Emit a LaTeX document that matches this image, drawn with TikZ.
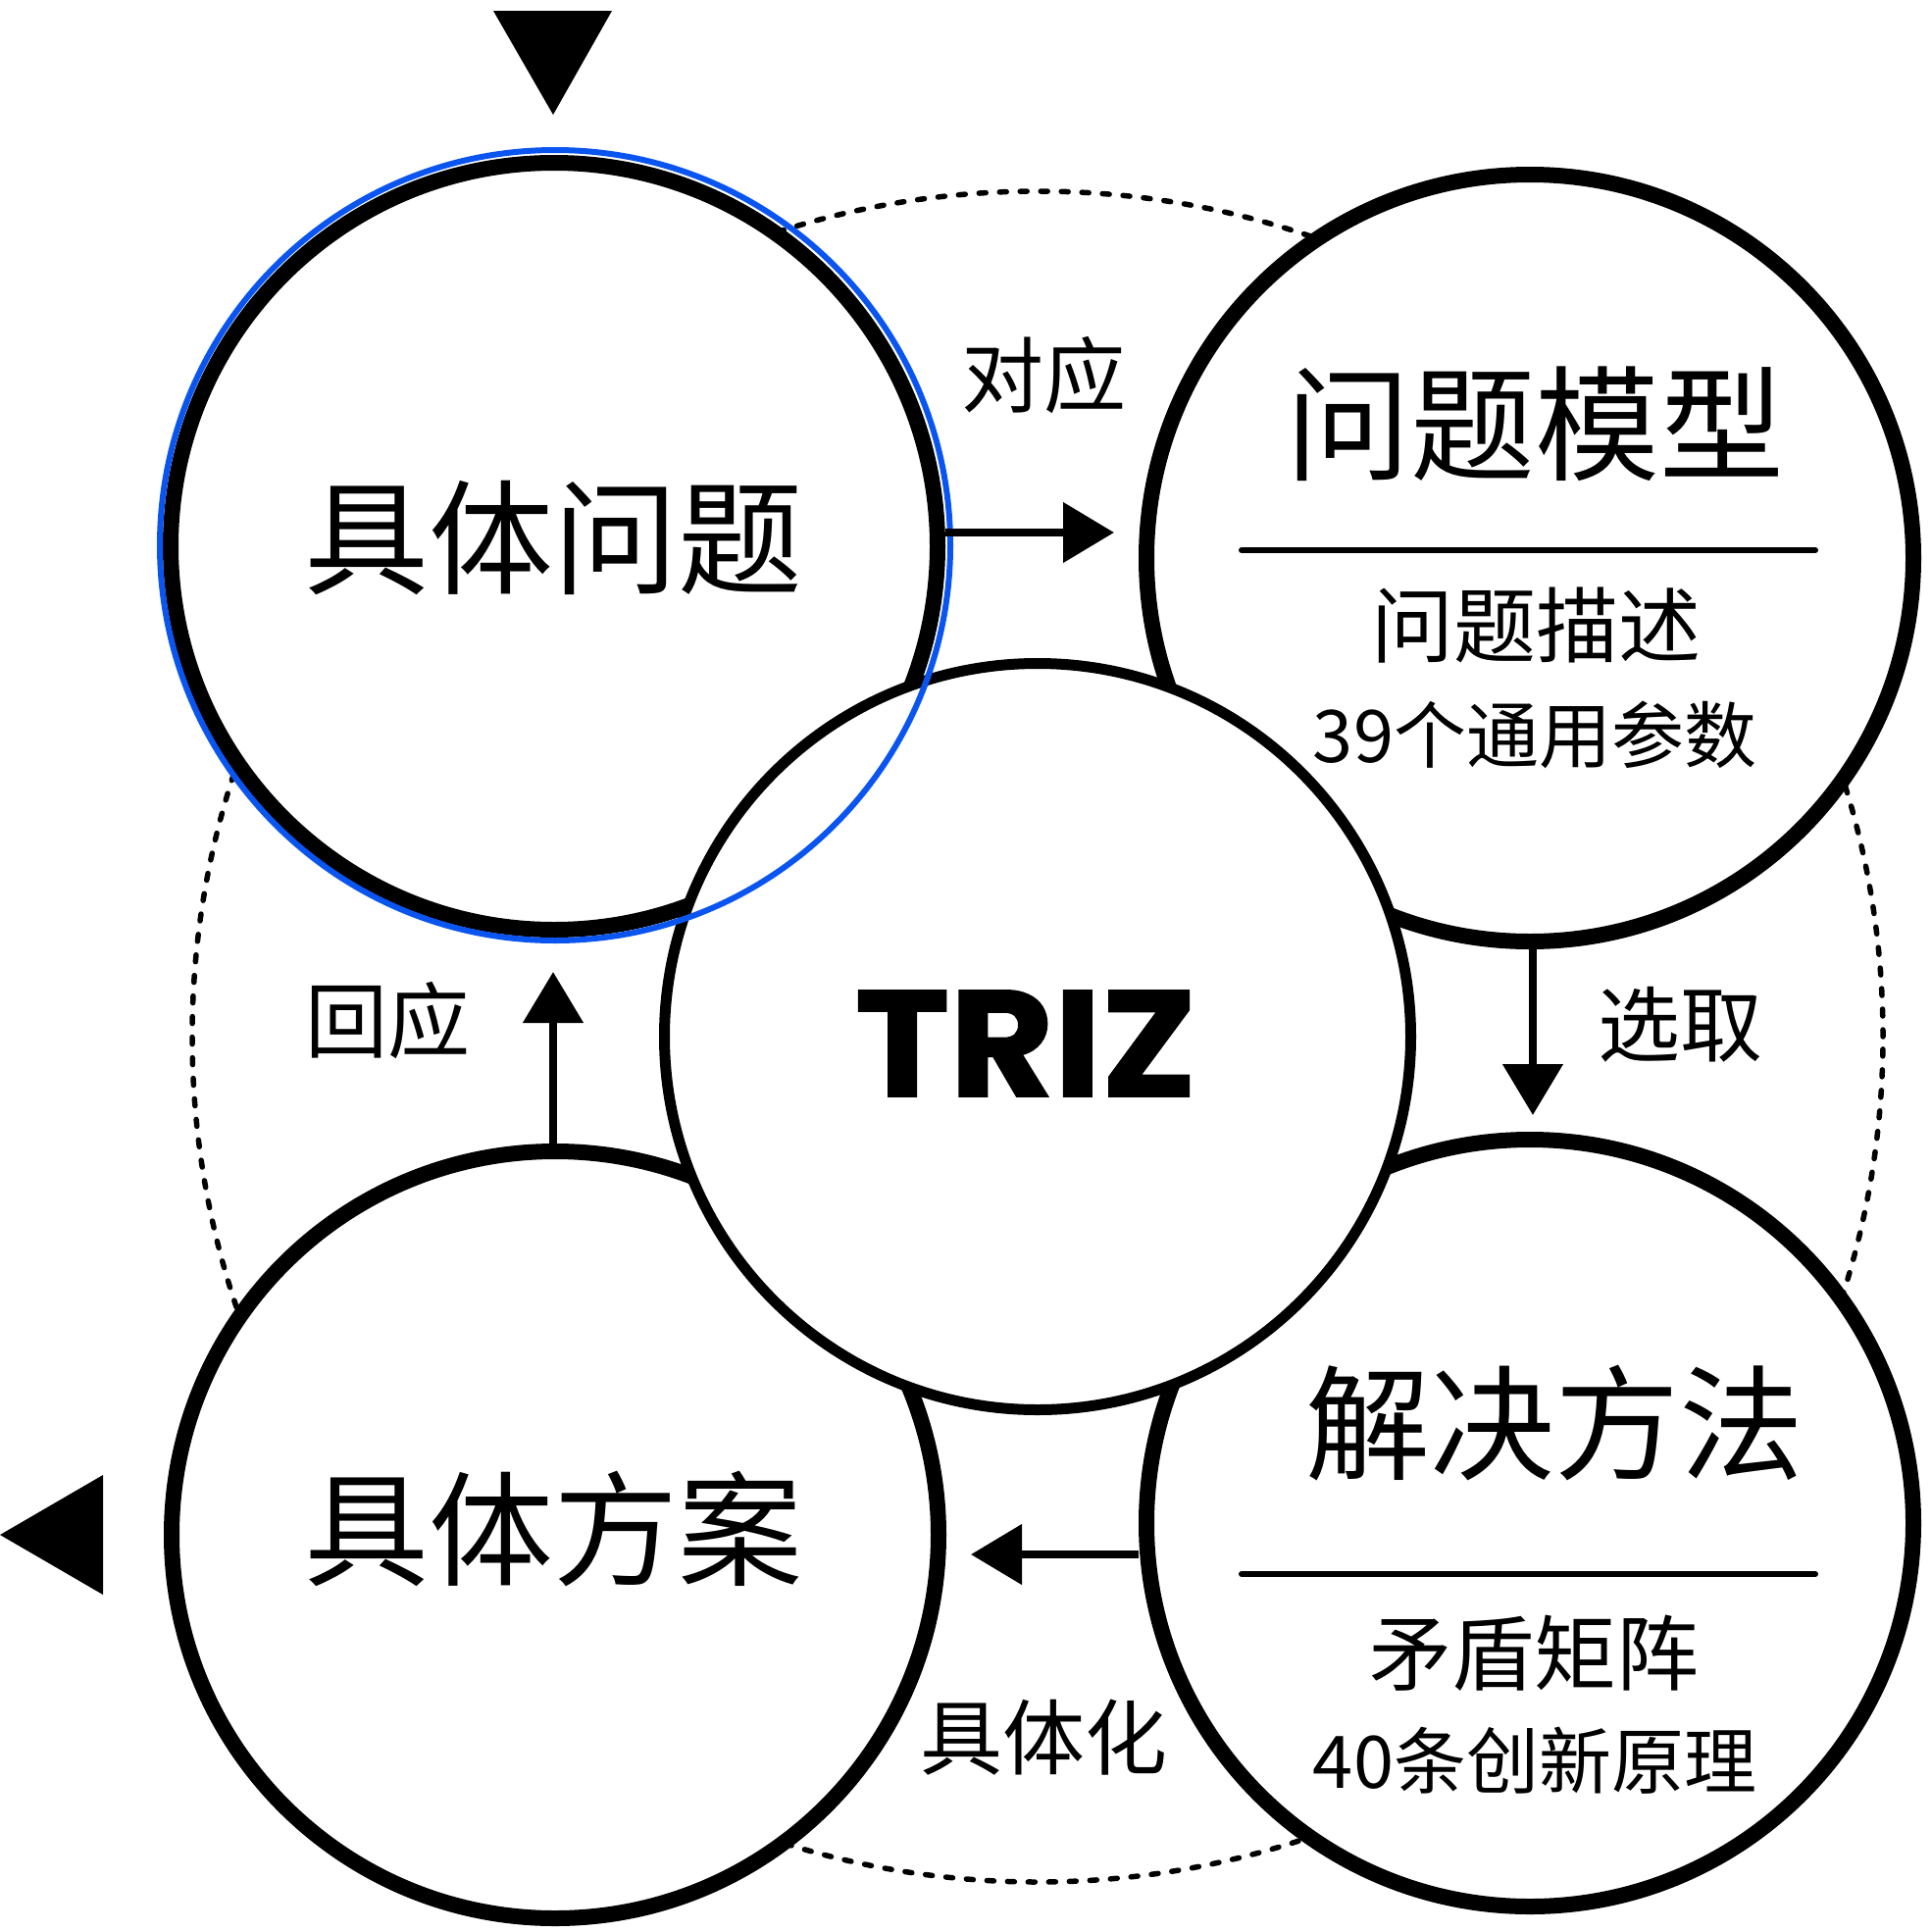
\documentclass[tikz,border=0pt]{standalone}
\usepackage{fontspec}
\newfontfamily\cjk{Noto Sans CJK SC}
\newfontfamily\trizfont{Poppins}[BoldFeatures={FakeBold=1.2}]
\usetikzlibrary{arrows.meta}
\definecolor{ringblue}{HTML}{0A55F0}
\begin{document}
\begin{tikzpicture}[x=1pt,y=-1pt,
  bigc/.style={circle, draw=black, line width=16pt, fill=white, minimum size=782pt, inner sep=0pt},
  trizc/.style={circle, draw=black, line width=11pt, fill=white, minimum size=761pt, inner sep=0pt},
  dotc/.style={draw=black, line width=5.5pt, line cap=round, dash pattern=on 7pt off 14pt},
  bigtxt/.style={font=\cjk\fontsize{127}{150}\selectfont, inner sep=0pt},
  midtxt/.style={font=\cjk\fontsize{84}{100}\selectfont, inner sep=0pt},
  smalltxt/.style={font=\cjk\fontsize{74}{90}\selectfont, inner sep=0pt},
  arr/.style={draw=black, line width=8pt, -{Triangle[length=52pt,width=60pt]}},
  sep/.style={draw=black, line width=6pt, line cap=round},
  tipmark/.style={fill=black}
]
\useasboundingbox (0,0) rectangle (1969,1970);
% dotted orbit
\node[circle, minimum size=1724pt, inner sep=0pt, dotc] (orbit) at (1058,1057) {};
% four outer circles
\node[bigc] (A) at (565,557) {};
\node[bigc] (B) at (1560,569) {};
\node[bigc] (C) at (1560,1553) {};
\node[bigc] (D) at (566,1565) {};
% centre circle
\node[trizc] (T) at (1058,1057) {};
% blue highlight ring
\node[circle, draw=ringblue, line width=6pt, minimum size=806pt, inner sep=0pt] (ring) at (566,556) {};
% texts
\node[bigtxt] (tA) at (564,548) {具体问题};
\node[bigtxt] (tD) at (564,1559) {具体方案};
\node[bigtxt] (tB) at (1565,432) {问题模型};
\node[bigtxt] (tC) at (1585,1451) {解决方法};
\node[midtxt] (tB1) at (1566,638) {问题描述};
\node[smalltxt] (tB2) at (1565,749) {39个通用参数};
\node[midtxt] (tC1) at (1564,1686) {矛盾矩阵};
\node[smalltxt] (tC2) at (1565,1795) {40条创新原理};
\node[midtxt] (l1) at (1064,383) {对应};
\node[midtxt] (l2) at (1713,1045) {选取};
\node[midtxt] (l3) at (1064,1772) {具体化};
\node[midtxt] (l4) at (395,1041) {回应};
\node[font=\trizfont\bfseries\fontsize{154}{180}\selectfont, inner sep=0pt] (tT) at (1046,1064) {\scalebox{1.06}[1]{TRIZ}};
% separators
\coordinate (bs1) at (1266,561);
\coordinate (bs2) at (1851,561);
\coordinate (cs1) at (1266,1605);
\coordinate (cs2) at (1851,1605);
\draw[sep] (bs1) -- (bs2);
\draw[sep] (cs1) -- (cs2);
% arrows
\coordinate (a1) at (1136,543);
\coordinate (s1) at (1563,1137);
\coordinate (k1) at (990,1585);
\coordinate (h1) at (564,991);
\draw[arr] (A.east |- a1) -- (a1);
\draw[arr] (s1 |- B.south) -- (s1);
\draw[arr] (C.west |- k1) -- (k1);
\draw[arr] (h1 |- D.north) -- (h1);
% entry / exit marks
\fill[tipmark] (503,11) -- (624,11) -- (564,117) -- cycle;
\fill[tipmark] (105,1504) -- (105,1626) -- (0,1565) -- cycle;
\end{tikzpicture}
\end{document}
